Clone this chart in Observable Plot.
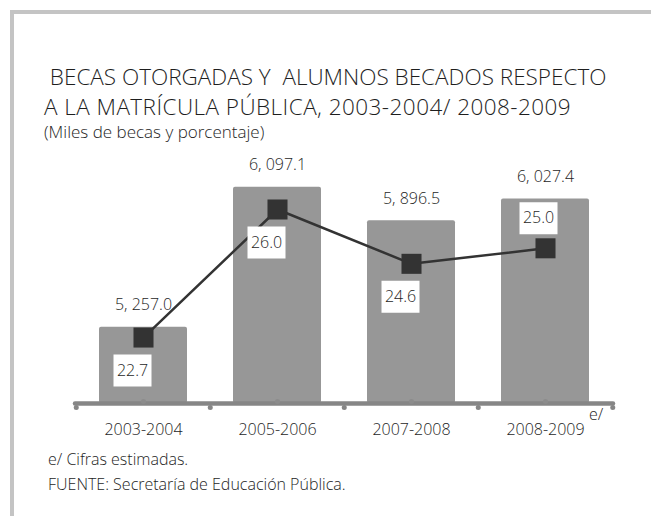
<!DOCTYPE html>
<html>
<head>
<meta charset="utf-8">
<script src="https://cdn.jsdelivr.net/npm/d3@7"></script>
<script src="https://cdn.jsdelivr.net/npm/@observablehq/plot@0.6"></script>
<style>
  html, body { margin: 0; padding: 0; background: #fff; }
  #wrap { position: relative; width: 651px; height: 516px; overflow: hidden; background: #fff;
          font-family: "Open Sans", sans-serif; font-weight: 300; color: #1e1e1e; }
  .abs { position: absolute; white-space: pre; }
  #bt { left: 10px; top: 10px; width: 641px; height: 4px; background: #c4c4c4; }
  #bl { left: 10px; top: 10px; width: 4px; height: 506px; background: #c4c4c4; }
  #t1 { left: 44px; top: 62px; font-size: 22.5px; line-height: 30px; }
  #t2 { left: 44px; top: 92px; font-size: 22.5px; line-height: 30px; letter-spacing: 0.45px; }
  #sub { left: 44px; top: 123px; font-size: 17px; line-height: 18px; }
  #sup { left: 589px; top: 404px; font-size: 16px; line-height: 20px; }
  #foot { left: 48px; top: 447px; font-size: 16px; line-height: 25px; }
  #chart { left: 0px; top: 140px; }
</style>
</head>
<body>
<div id="wrap">
  <div class="abs" id="bt"></div>
  <div class="abs" id="bl"></div>
  <div class="abs" id="t1"> BECAS OTORGADAS Y  ALUMNOS BECADOS RESPECTO</div>
  <div class="abs" id="t2">A LA MATRÍCULA PÚBLICA, 2003-2004/ 2008-2009</div>
  <div class="abs" id="sub">(Miles de becas y porcentaje)</div>
  <div class="abs" id="chart"></div>
  <div class="abs" id="sup">e/</div>
  <div class="abs" id="foot">e/ Cifras estimadas.
FUENTE: Secretaría de Educación Pública.</div>
</div>
<script>
const categories = ["2003-2004", "2005-2006", "2007-2008", "2008-2009"];
const becas = [5257.0, 6097.1, 5896.5, 6027.4];
const porcentaje = [22.7, 26.0, 24.6, 25.0];

const data = categories.map((c, i) => ({cat: c, becas: becas[i], pct: porcentaje[i]}));

const W = 651, H = 300, mL = 75, mR = 38, mB = 37;
const yMin = 4800, yMax = 6200;
const mT = (H - mB) - (yMax - yMin) / 6;
const step = (W - mL - mR) / categories.length;

// secondary (percentage) axis mapped onto the primary scale
const pctY = d3.scaleLinear([21, 26], [4800, 5964]);

const fmtBecas = v => d3.format(",.1f")(v).replace(",", ", ");
const boxSymbol = {draw(ctx) { ctx.rect(-19, -16, 38, 32); }};
const below = (d, i) => i !== 3;
const above = (d, i) => i === 3;

const chart = Plot.plot({
  width: W, height: H,
  marginLeft: mL, marginRight: mR, marginTop: mT, marginBottom: mB,
  style: {fontFamily: "'Open Sans', sans-serif", fontWeight: 300, fontSize: "16px", color: "#1e1e1e", background: "transparent"},
  x: {type: "band", domain: categories, paddingInner: 0.34, paddingOuter: 0.17},
  y: {domain: [yMin, yMax], axis: null},
  marks: [
    Plot.barY(data, {x: "cat", y1: yMin, y2: "becas", fill: "#979797", rx: 2}),
    Plot.ruleY([yMin], {stroke: "#868686", strokeWidth: 4.5, strokeLinecap: "round"}),
    Plot.dot(data, {x: "cat", y: () => yMin, dy: -2, r: 2.5, fill: "#8c8c8c"}),
    Plot.dot(data, {x: "cat", y: () => yMin, dx: -step / 2, dy: 4, r: 2.5, fill: "#868686"}),
    Plot.dot(data, {filter: (d, i) => i === data.length - 1, x: "cat", y: () => yMin, dx: step / 2, dy: 4, r: 2.5, fill: "#868686"}),
    Plot.axisX({tickSize: 0, tickPadding: 20, fontSize: 16, label: null, fill: "#1e1e1e"}),
    Plot.line(data, {x: "cat", y: d => pctY(d.pct), stroke: "#333", strokeWidth: 2.5}),
    Plot.dot(data, {x: "cat", y: d => pctY(d.pct), symbol: "square", r: 11.3, fill: "#333"}),
    Plot.dot(data, {filter: below, x: "cat", y: d => pctY(d.pct), dx: -11, dy: 33, symbol: boxSymbol, fill: "#fff", stroke: "none"}),
    Plot.dot(data, {filter: above, x: "cat", y: d => pctY(d.pct), dx: -7, dy: -30, symbol: boxSymbol, fill: "#fff", stroke: "none"}),
    Plot.text(data, {filter: below, x: "cat", y: d => pctY(d.pct), dx: -11, dy: 33, text: d => d.pct.toFixed(1), fontSize: 16, fill: "#1e1e1e"}),
    Plot.text(data, {filter: above, x: "cat", y: d => pctY(d.pct), dx: -7, dy: -30, text: d => d.pct.toFixed(1), fontSize: 16, fill: "#1e1e1e"}),
    Plot.text(data, {x: "cat", y: "becas", dy: -22, text: d => fmtBecas(d.becas), fontSize: 16, fill: "#1e1e1e"})
  ]
});
document.getElementById("chart").appendChild(chart);
</script>
</body>
</html>
